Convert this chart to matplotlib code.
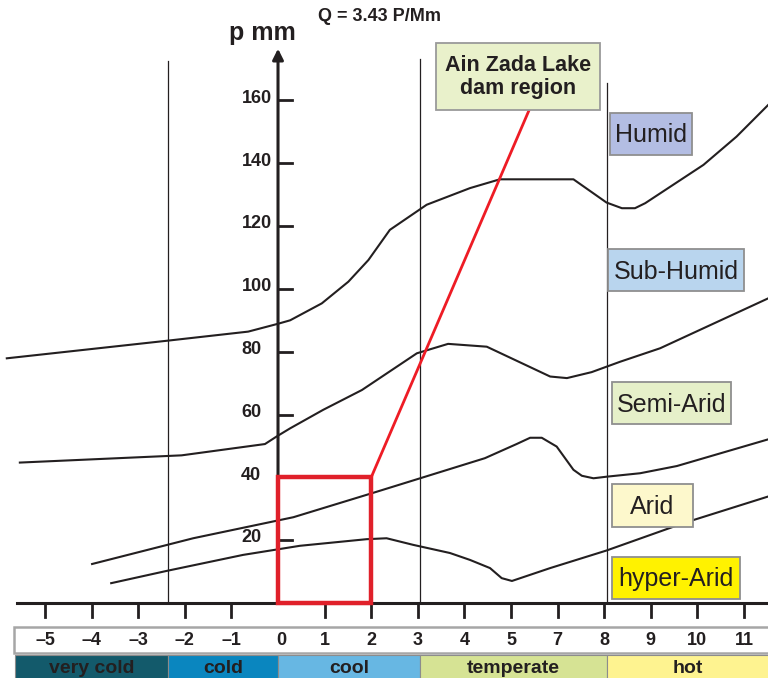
import matplotlib
matplotlib.use("Agg")
import matplotlib.pyplot as plt
from matplotlib.patches import Rectangle

plt.rcParams["font.family"] = ["Liberation Sans", "DejaVu Sans"]
INK = "#231f20"

# temperature axis: tick positions and their printed labels (6 is skipped in the source)
tick_pos = [-5, -4, -3, -2, -1, 0, 1, 2, 3, 4, 5, 6, 7, 8, 9, 10]
tick_lab = ["–5", "–4", "–3", "–2", "–1", "0", "1", "2", "3", "4", "5", "7", "8", "9", "10", "11"]

# precipitation axis ticks (mm)
p_ticks = [20, 40, 60, 80, 100, 120, 140, 160]

# boundary curves between climate zones (x = tick position, y = p mm)
humid_x = [-5.82, -2.38, -0.64, 0.0, 0.26, 0.94, 1.51, 1.94, 2.40, 3.19, 4.12, 4.76,
           6.34, 7.05, 7.38, 7.66, 7.88, 9.13, 9.84, 10.52]
humid_y = [77.9, 83.5, 86.4, 88.9, 90.0, 95.4, 102.3, 109.2, 118.8, 126.8, 132.1, 134.9,
           134.9, 127.5, 125.7, 125.7, 127.3, 139.5, 148.5, 158.6]

subhumid_x = [-5.54, -2.07, -0.28, -0.03, 0.26, 0.97, 1.80, 2.98, 3.65, 4.48, 5.84,
              6.20, 6.73, 7.34, 8.20, 10.52]
subhumid_y = [44.7, 47.0, 50.6, 53.0, 55.6, 61.5, 67.8, 79.5, 82.5, 81.6, 72.1,
              71.6, 73.5, 76.8, 81.1, 97.0]

semiarid_x = [-3.99, -1.82, 0.33, 2.05, 3.05, 4.44, 5.12, 5.41, 5.66, 5.98, 6.34,
              6.52, 6.77, 7.05, 7.77, 8.56, 10.52]
semiarid_y = [12.4, 20.6, 27.3, 35.1, 39.7, 46.1, 50.6, 52.6, 52.6, 49.8, 42.4,
              40.5, 39.7, 40.2, 41.3, 43.6, 52.1]

arid_x = [-3.58, -2.39, -0.75, 0.47, 1.90, 2.33, 2.90, 3.69, 4.12, 4.55, 4.80, 5.02,
          5.84, 7.05, 8.70, 10.52]
arid_y = [6.3, 10.2, 15.3, 18.2, 20.3, 20.6, 18.5, 15.9, 13.7, 11.1, 7.9, 7.0,
          11.1, 16.7, 25.4, 33.9]

# temperature bands along the bottom
band_names = ["very cold", "cold", "cool", "temperate", "hot"]
band_edges = [-5.64, -2.37, 0.0, 3.05, 7.06, 10.6]
band_colors = ["#135a6b", "#0a86bf", "#67b7e3", "#d6e394", "#fef390"]

# zone label boxes: text, fill, (x0, x1, y0, y1)
zones = [
    ("Humid", "#b3bde3", (7.12, 8.88, 142.7, 156.1)),
    ("Sub-Humid", "#b9d5ee", (7.09, 10.0, 99.4, 112.6)),
    ("Semi-Arid", "#e6f0c9", (7.16, 9.72, 57.0, 70.2)),
    ("Arid", "#fdf8cc", (7.16, 8.91, 24.3, 37.9)),
    ("hyper-Arid", "#fff200", (7.17, 9.91, 1.3, 14.7)),
]

# study area
site_x = [0, 2]
site_y = [0, 40]

fig = plt.figure(figsize=(7.68, 6.78), dpi=100)
ax = fig.add_axes([0, 0, 1, 1])
ax.set_xlim(-5.966, 10.515)
ax.set_ylim(-23.9, 192.0)
ax.axis("off")

# vertical band separators
for xv, top in [(-2.37, 172.6), (3.05, 173.2), (7.06, 165.6)]:
    ax.plot([xv, xv], [0, top], color=INK, lw=0.9, zorder=2)

# curves
for xs, ys in [(humid_x, humid_y), (subhumid_x, subhumid_y),
               (semiarid_x, semiarid_y), (arid_x, arid_y)]:
    ax.plot(xs, ys, color=INK, lw=1.5, zorder=3, solid_joinstyle="round")

# x axis + ticks
ax.plot([-5.6, 10.6], [0, 0], color=INK, lw=2.2, zorder=4)
for tp in tick_pos:
    if tp != 0:
        ax.plot([tp, tp], [0, -4.4], color=INK, lw=2.0, zorder=4)

# y axis with arrow
ax.annotate("", xy=(0, 176.5), xytext=(0, 0),
            arrowprops=dict(arrowstyle="-|>", lw=2.2, color=INK, mutation_scale=16,
                            shrinkA=0, shrinkB=0), zorder=5)
for pt in p_ticks:
    ax.plot([0, 0.3], [pt, pt], color=INK, lw=2.0, zorder=4)
    xl = -0.13 if pt >= 100 else -0.36
    ax.text(xl, pt + 0.7, str(pt), ha="right", va="center", fontsize=13,
            fontweight="bold", color=INK)

ax.text(-0.34, 181.5, "p mm", ha="center", va="center", fontsize=18,
        fontweight="bold", color=INK)
ax.text(0.86, 186.8, "Q = 3.43 P/Mm", ha="left", va="center", fontsize=13,
        fontweight="bold", color=INK)

# tick label strip
ax.add_patch(Rectangle((-5.665, -15.9), 17, 8.3, facecolor="white",
                       edgecolor="#a6a6a6", lw=1.8, zorder=2))
for tp, tl in zip(tick_pos, tick_lab):
    ax.text(tp + (0.07 if tp == 0 else 0), -11.9, tl, ha="center", va="center",
            fontsize=13, fontweight="bold", color=INK)

# temperature bands
for name, c, x0, x1 in zip(band_names, band_colors, band_edges[:-1], band_edges[1:]):
    ax.add_patch(Rectangle((x0, -30), x1 - x0, 13.4, facecolor=c,
                           edgecolor="#8c8c8c", lw=0.8, zorder=2))
    ax.text((x0 + min(x1, 10.515)) / 2, -20.9, name, ha="center", va="center",
            fontsize=14, fontweight="bold", color=INK)

# zone labels
for name, c, (x0, x1, y0, y1) in zones:
    ax.add_patch(Rectangle((x0, y0), x1 - x0, y1 - y0, facecolor=c,
                           edgecolor="#8f8f8f", lw=1.3, zorder=6))
    ax.text((x0 + x1) / 2, (y0 + y1) / 2 - 0.5, name, ha="center", va="center",
            fontsize=18, color=INK, zorder=7)

# study area box and pointer
ax.add_patch(Rectangle((site_x[0], site_y[0]), site_x[1] - site_x[0], site_y[1] - site_y[0],
                       facecolor="none", edgecolor="#e0202a", lw=3.2, zorder=8))
ax.plot([site_x[1], 5.39], [site_y[1], 157.0], color="#ee1c25", lw=2.0, zorder=8)
ax.add_patch(Rectangle((3.39, 157.0), 3.52, 21.3, facecolor="#e9f1cb",
                       edgecolor="#9a9a9a", lw=1.3, zorder=9))
ax.text(5.15, 167.4, "Ain Zada Lake\ndam region", ha="center", va="center",
        fontsize=15.5, fontweight="bold", color=INK, linespacing=1.15, zorder=10)

fig.savefig("out.png", dpi=100)
